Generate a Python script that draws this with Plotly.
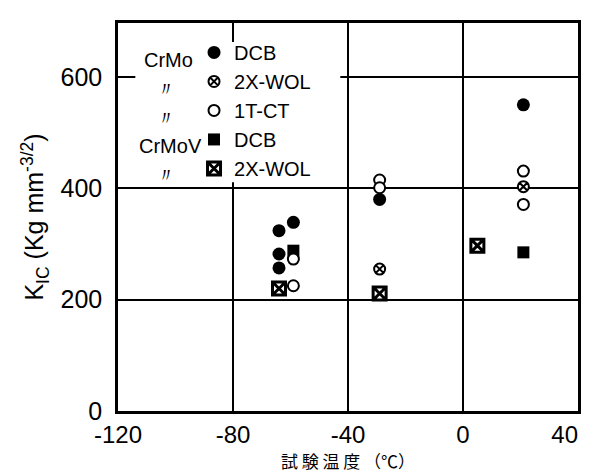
import plotly.graph_objects as go

# Data
crmo_dcb_x = [-64, -59, -64, -64, -29, 21]
crmo_dcb_y = [324, 339, 282, 257, 380, 550]
crmo_wol_x = [-29, 21]
crmo_wol_y = [255, 403]
crmo_ct_x = [-59, -59, -29, -29, 21, 21]
crmo_ct_y = [273, 225, 415, 401, 431, 371]
crmov_dcb_x = [-59, 21]
crmov_dcb_y = [288, 285]
crmov_wol_x = [-64, -29, 5]
crmov_wol_y = [220, 211, 297]

x_ticks = [-120, -80, -40, 0, 40]
x_tick_text = ["-120", "-80", "-40", "0", "40\u00a0\u00a0\u00a0\u00a0"]
y_ticks = [0, 200, 400, 600]
y_tick_text = ["0", "200", "400", "600"]

W, H = 609, 472
ML, MR, MT, MB = 110, 21, 13, 69
PW, PH = W - ML - MR, H - MT - MB

def px_x(p):
    return (p - ML) / PW

def px_y(p):
    return (H - MB - p) / PH

fig = go.Figure()
fig.add_trace(go.Scatter(x=crmo_dcb_x, y=crmo_dcb_y, mode="markers", name="DCB",
                         legendrank=1,
                         marker=dict(symbol="circle", size=13, color="black")))
fig.add_trace(go.Scatter(x=crmo_wol_x, y=crmo_wol_y, mode="markers", name="2X-WOL",
                         legendrank=2,
                         marker=dict(symbol="circle-x", size=11, color="white",
                                     line=dict(color="black", width=2))))
fig.add_trace(go.Scatter(x=crmov_dcb_x, y=crmov_dcb_y, mode="markers", name="DCB ",
                         legendrank=4,
                         marker=dict(symbol="square", size=12, color="black")))
fig.add_trace(go.Scatter(x=crmo_ct_x, y=crmo_ct_y, mode="markers", name="1T-CT",
                         legendrank=3,
                         marker=dict(symbol="circle", size=11, color="white",
                                     line=dict(color="black", width=2))))
fig.add_trace(go.Scatter(x=crmov_wol_x, y=crmov_wol_y, mode="markers", name="2X-WOL ",
                         legendrank=5,
                         marker=dict(symbol="square-x", size=13, color="white",
                                     line=dict(color="black", width=3))))

# white box behind the legend (hides grid lines)
fig.add_shape(type="rect", xref="paper", yref="paper",
              x0=px_x(128), x1=px_x(341), y0=px_y(173), y1=px_y(32),
              fillcolor="white", line=dict(width=0), layer="above")

left_labels = [("CrMo", 162, 50), ("〃", 160, 79), ("〃", 160, 108),
               ("CrMoV", 165, 137), ("〃", 160, 166)]
for txt, lx, ly in left_labels:
    fig.add_annotation(x=px_x(lx), y=px_y(ly), xref="paper", yref="paper",
                       xanchor="center", yanchor="middle",
                       text=txt, showarrow=False,
                       font=dict(size=20, color="black", family="Liberation Sans"))

fig.update_layout(
    width=W, height=H,
    margin=dict(l=ML, r=MR, t=MT, b=MB),
    paper_bgcolor="white", plot_bgcolor="white",
    font=dict(family="Liberation Sans", color="black"),
    legend=dict(x=px_x(189), y=px_y(23), xanchor="left", yanchor="top",
                bgcolor="rgba(0,0,0,0)", font=dict(size=20, color="black"),
                traceorder="normal", tracegroupgap=0),
    showlegend=True,
)

fig.update_xaxes(range=[-120, 40], tickvals=x_ticks, ticktext=x_tick_text,
                 showgrid=True, gridcolor="black", gridwidth=1.5,
                 showline=True, linecolor="black", linewidth=2.5, mirror=True,
                 zeroline=False, ticks="", tickfont=dict(size=24),
                 ticklabelstandoff=0, ticklabeloverflow="allow",
                 title=dict(text="試 験 温 度 （℃）",
                            font=dict(size=17, family="Noto Sans CJK JP"), standoff=0))
fig.update_yaxes(range=[0, 697], tickvals=y_ticks, ticktext=y_tick_text,
                 showgrid=True, gridcolor="black", gridwidth=1.5,
                 showline=True, linecolor="black", linewidth=2.5, mirror=True,
                 zeroline=False, ticks="", tickfont=dict(size=25),
                 ticklabelstandoff=8,
                 title=dict(text="K<sub>IC</sub> (Kg mm<sup>-3/2</sup>)",
                            font=dict(size=25), standoff=10))

fig.write_html("out.html")
